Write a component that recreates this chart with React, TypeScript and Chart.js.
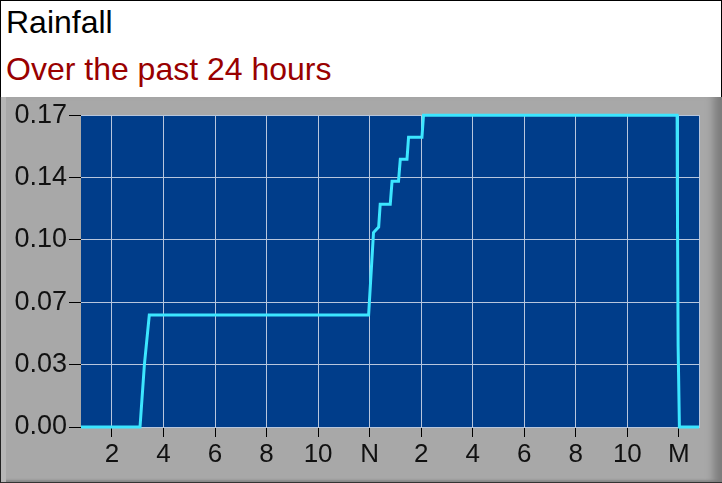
import { useEffect, useRef } from 'react';
import { Chart, registerables, ChartConfiguration, Plugin } from 'chart.js';

Chart.register(...registerables);

// hours since midnight (2 = 2am, 12 = noon, 24 = midnight)
const hours = [
  0.8, 3.09, 3.26, 3.45, 11.96, 12.15, 12.35, 12.41, 12.8, 12.87, 13.12, 13.19,
  13.45, 13.51, 14.03, 14.09, 23.93, 23.94, 23.97, 24.02, 24.78,
];
// accumulated rainfall
const rain = [
  0, 0, 0.034, 0.061, 0.061, 0.106, 0.109, 0.1215, 0.1215, 0.134, 0.134, 0.146,
  0.146, 0.158, 0.158, 0.17, 0.17, 0.128, 0.044, 0, 0,
];

const xTicks = [2, 4, 6, 8, 10, 12, 14, 16, 18, 20, 22, 24];
const xTickLabels = ['2', '4', '6', '8', '10', 'N', '2', '4', '6', '8', '10', 'M'];
const yTicks = [0, 0.034, 0.068, 0.102, 0.136, 0.17];
const yTickLabels = ['0.00', '0.03', '0.07', '0.10', '0.14', '0.17'];

const PLOT_BG = '#003d8a';
const GRID = '#b7c6dd';

const plotBackground: Plugin = {
  id: 'plotBackground',
  beforeDraw(chart) {
    const { ctx, chartArea: a } = chart;
    ctx.save();
    ctx.fillStyle = PLOT_BG;
    ctx.fillRect(a.left, a.top, a.right - a.left, a.bottom - a.top);
    ctx.restore();
  },
  afterDatasetsDraw(chart) {
    const { ctx, chartArea: a } = chart;
    ctx.save();
    ctx.strokeStyle = GRID;
    ctx.lineWidth = 1;
    ctx.beginPath();
    ctx.moveTo(a.right + 0.5, a.top);
    ctx.lineTo(a.right + 0.5, a.bottom);
    ctx.stroke();
    ctx.restore();
  },
};

export default function App() {
  const canvasRef = useRef<HTMLCanvasElement>(null);

  useEffect(() => {
    if (!canvasRef.current) return;
    const family = 'Arial, "Liberation Sans", sans-serif';

    const config: ChartConfiguration<'line'> = {
      type: 'line',
      data: {
        datasets: [
          {
            data: hours.map((h, i) => ({ x: h, y: rain[i] })),
            borderColor: '#3ce6ff',
            borderWidth: 3,
            pointRadius: 0,
            tension: 0,
            clip: 4,
          },
        ],
      },
      options: {
        responsive: false,
        animation: false,
        layout: { padding: { top: 18, right: 23, left: 0, bottom: 0 } },
        plugins: { legend: { display: false }, tooltip: { enabled: false } },
        scales: {
          x: {
            type: 'linear',
            min: 0.8,
            max: 24.78,
            afterBuildTicks: (axis) => {
              axis.ticks = xTicks.map((v) => ({ value: v }));
            },
            afterFit: (axis) => {
              axis.height = 56;
            },
            ticks: {
              color: '#111',
              font: { family, size: 26 },
              padding: 2,
              maxRotation: 0,
              autoSkip: false,
              callback: (v) => xTickLabels[xTicks.indexOf(Number(v))] ?? '',
            },
            grid: { color: GRID, tickColor: '#000', tickLength: 10, drawTicks: true },
            border: { display: true, color: GRID },
          },
          y: {
            type: 'linear',
            min: 0,
            max: 0.17,
            afterBuildTicks: (axis) => {
              axis.ticks = yTicks.map((v) => ({ value: v }));
            },
            afterFit: (axis) => {
              axis.width = 81;
            },
            ticks: {
              color: '#111',
              font: { family, size: 27 },
              padding: 2,
              autoSkip: false,
              callback: (v) => yTickLabels[yTicks.indexOf(Number(v))] ?? '',
            },
            grid: { color: GRID, tickColor: '#000', tickLength: 12, drawTicks: true },
            border: { display: false },
          },
        },
      },
      plugins: [plotBackground],
    };

    const chart = new Chart(canvasRef.current, config);
    return () => chart.destroy();
  }, []);

  const textFont = 'Arial, "Liberation Sans", sans-serif';

  return (
    <div
      style={{
        position: 'fixed',
        left: 0,
        top: 0,
        width: 722,
        height: 483,
        overflow: 'hidden',
        fontFamily: textFont,
      }}
    >
      <div
        style={{
          position: 'absolute',
          left: 0,
          top: 0,
          width: 722,
          height: 97,
          boxSizing: 'border-box',
          background: '#fff',
          borderTop: '1px solid #000',
          borderLeft: '1px solid #000',
          borderRight: '1px solid #000',
        }}
      >
        <div style={{ position: 'absolute', left: 5, top: 3, fontSize: 32, color: '#000', whiteSpace: 'nowrap' }}>
          Rainfall
        </div>
        <div style={{ position: 'absolute', left: 5, top: 50, fontSize: 32, color: '#990000', whiteSpace: 'nowrap' }}>
          Over the past 24 hours
        </div>
      </div>
      <div
        style={{
          position: 'absolute',
          left: 0,
          top: 97,
          width: 722,
          height: 386,
          boxSizing: 'border-box',
          background: '#a8a8a8',
          borderLeft: '1px solid #222',
          borderBottom: '1px solid #333',
          boxShadow: 'inset 5px 0 0 #b6b6b6, inset -14px 0 8px -6px #7c7c7c, inset 0 -3px 2px -1px #8a8a8a',
        }}
      />
      <canvas
        ref={canvasRef}
        width={722}
        height={386}
        style={{ position: 'absolute', left: 0, top: 97, width: 722, height: 386 }}
      />
    </div>
  );
}
